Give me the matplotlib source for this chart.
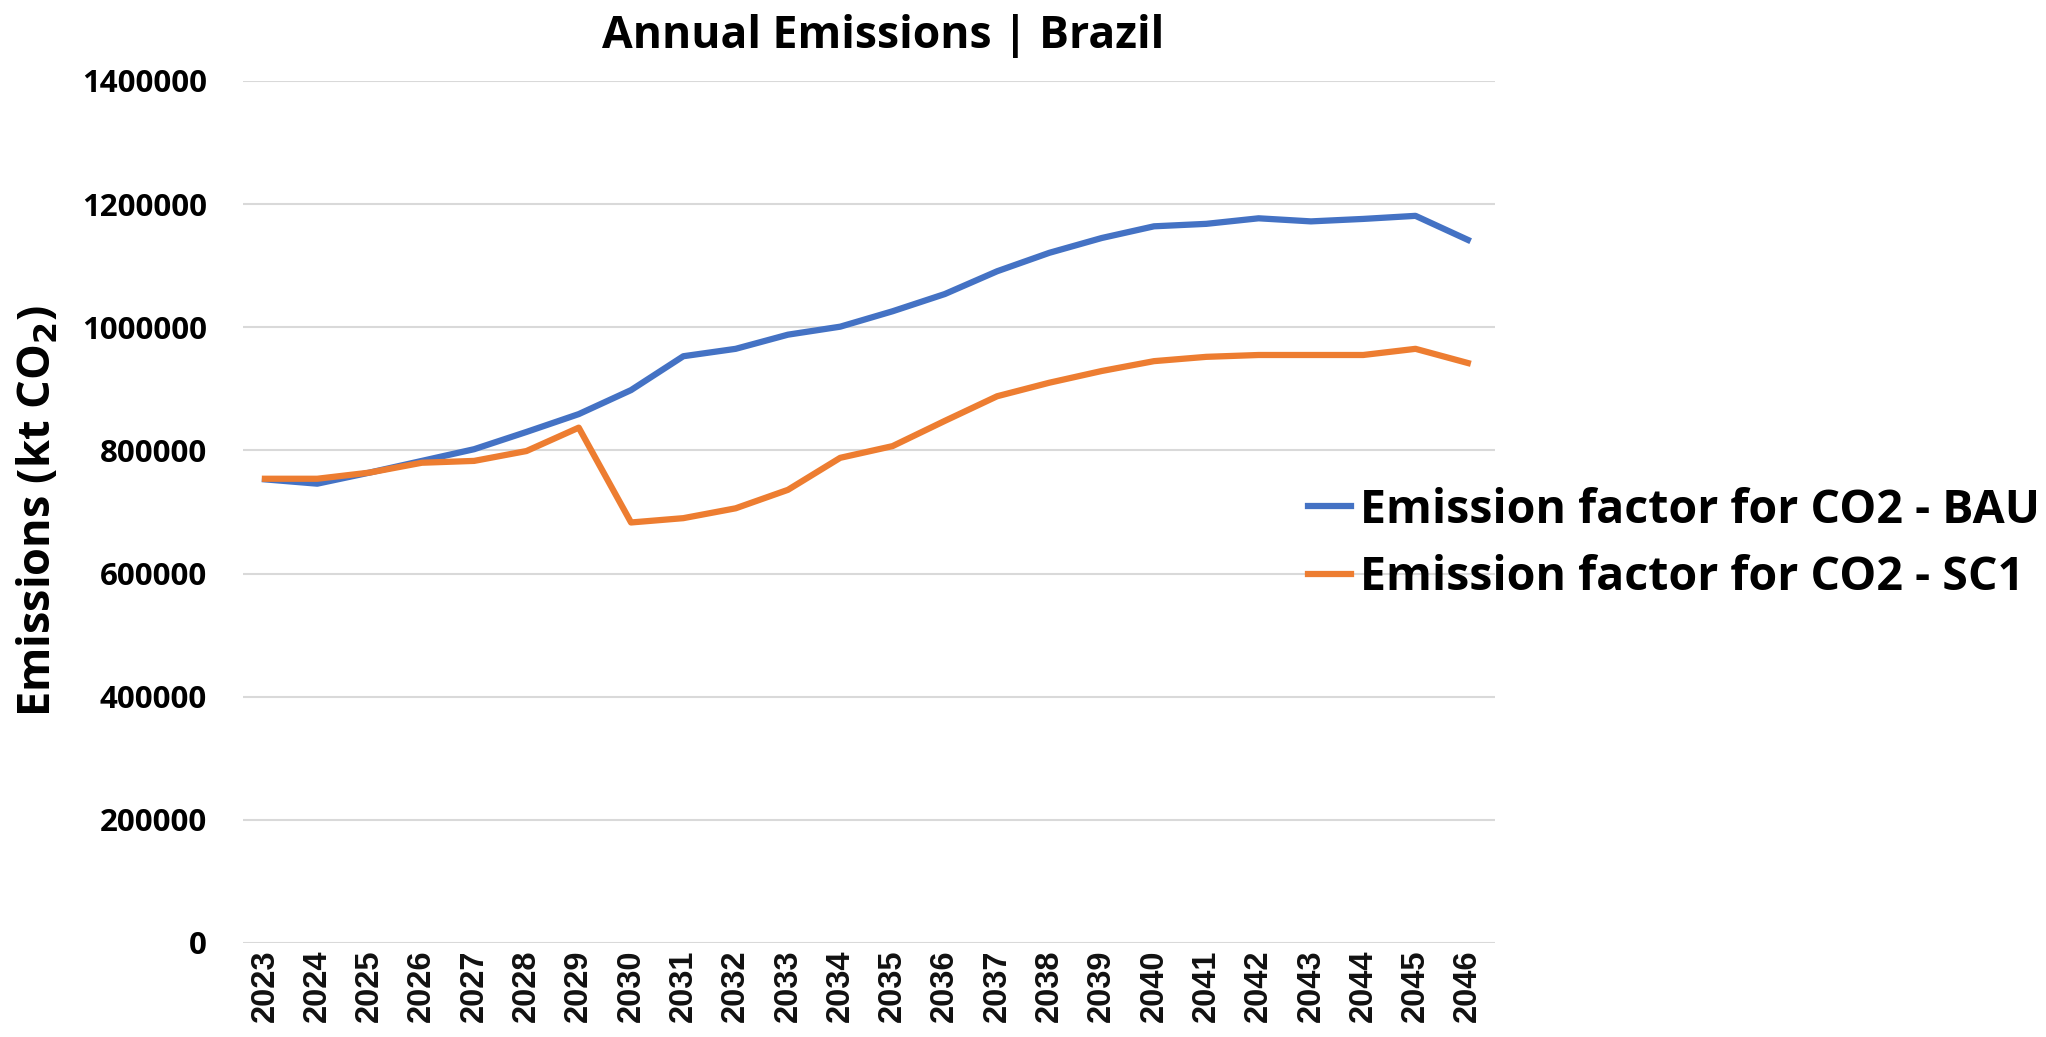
import numpy as np
import matplotlib
matplotlib.use("Agg")
import matplotlib.pyplot as plt

# annual CO2 emissions for Brazil, kt CO2
years = list(range(2023, 2047))
bau = [753000, 746000, 764000, 783000, 802000, 830000, 859000, 898000,
       953000, 965000, 988000, 1001000, 1026000, 1054000, 1091000, 1121000,
       1145000, 1164000, 1168000, 1177000, 1172000, 1176000, 1181000, 1142000]
sc1 = [754000, 754000, 764000, 780000, 783000, 799000, 837000, 683000,
       690000, 706000, 736000, 788000, 807000, 848000, 888000, 910000,
       929000, 945000, 952000, 955000, 955000, 955000, 965000, 942000]
y_ticks = [0, 200000, 400000, 600000, 800000, 1000000, 1200000, 1400000]

series_labels = ["Emission factor for CO2 - BAU", "Emission factor for CO2 - SC1"]
colors = ["#4472C4", "#ED7D31"]

plt.rcParams["font.family"] = ["Open Sans", "DejaVu Sans"]

fig = plt.figure(figsize=(20.46, 10.37), dpi=100)
ax = fig.add_axes([243 / 2046, 94 / 1037, (1495 - 243) / 2046, 862 / 1037])

x = np.arange(len(years))
ax.plot(x, bau, color=colors[0], linewidth=4.5, label=series_labels[0], solid_joinstyle="round")
ax.plot(x, sc1, color=colors[1], linewidth=4.5, label=series_labels[1], solid_joinstyle="round")

ax.set_xlim(-0.42, len(years) - 0.48)
ax.set_ylim(0, 1400000)
ax.set_yticks(y_ticks)
ax.set_yticklabels([str(v) for v in y_ticks], fontsize=22.5, fontweight="bold")
ax.set_xticks(x)
ax.set_xticklabels([str(y) for y in years], rotation=90, fontsize=23.5, fontweight="bold",
                   family=["Liberation Sans", "DejaVu Sans"], color="#111111")
ax.tick_params(axis="both", length=0)
ax.tick_params(axis="y", pad=26)
ax.tick_params(axis="x", pad=5)

ax.grid(axis="y", color="#d9d9d9", linewidth=1.5)
ax.set_axisbelow(True)
for s in ax.spines.values():
    s.set_visible(False)

fig.text(883 / 2046, 1 - 37 / 1037, "Annual Emissions | Brazil", ha="center", va="center",
         fontsize=32, fontweight="bold")
fig.text(39 / 2046, 0.507, "Emissions (kt CO$_\\mathbf{2}$)", rotation=90, ha="center", va="center",
         fontsize=32.5, fontweight="bold")

ax.legend(loc="center left", bbox_to_anchor=(1308 / 2046, 1 - 544 / 1037),
          bbox_transform=fig.transFigure, frameon=False,
          prop={"size": 33.5, "weight": "bold"}, handlelength=0.92,
          handletextpad=0.2, labelspacing=0.44, borderaxespad=0, borderpad=0)

fig.savefig("out.png", dpi=100, facecolor="white")
